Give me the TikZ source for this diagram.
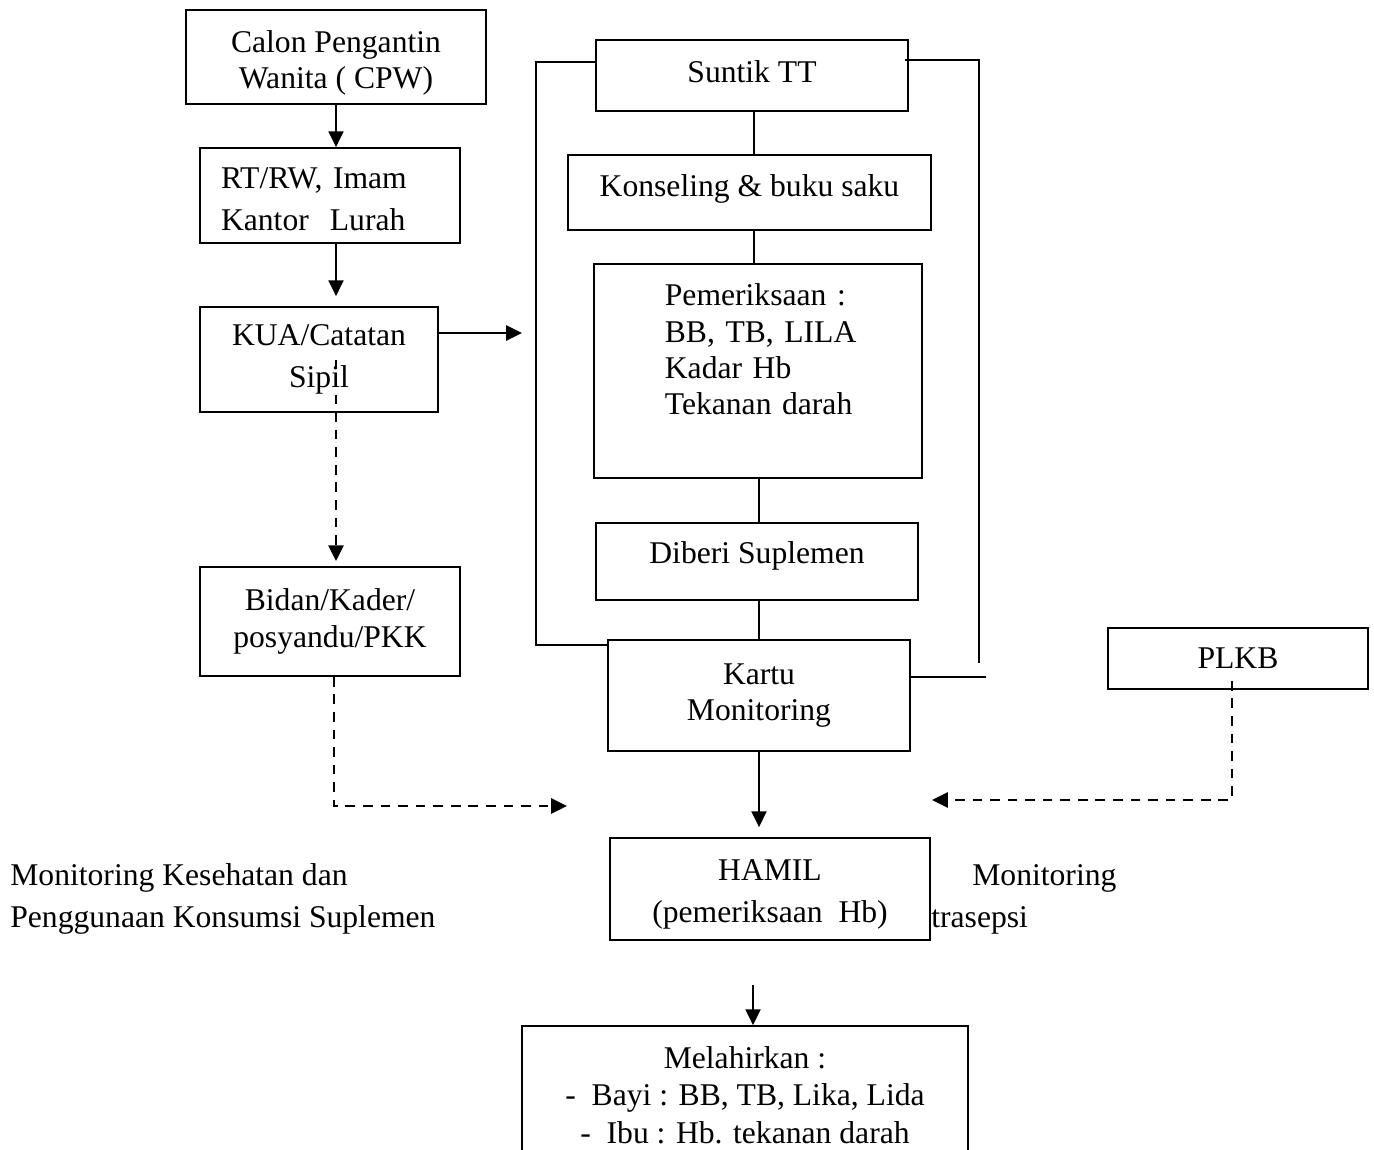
\documentclass[tikz,border=0pt]{standalone}
\usepackage{fontspec}
\setmainfont{Liberation Serif}
\usetikzlibrary{arrows.meta}
% struts to nudge text inside a box up or down
\newcommand\padtop[1]{\rule[12.5pt]{0pt}{#1}}
\newcommand\padbot[1]{\rule[-#1]{0pt}{#1}}

\begin{document}
\begin{tikzpicture}[x=0.02cm,y=-0.02cm,>={Triangle[length=9pt,width=8.5pt]},
  box/.style={draw,line width=1pt,align=center,inner sep=0pt,font=\fontsize{18}{20.7}\selectfont},
  wide/.style={font=\fontsize{18}{23.8}\selectfont},
  txt/.style={inner sep=0pt,font=\fontsize{18}{23.8}\selectfont},
  arr/.style={->,line width=1.4pt},
  dasharr/.style={->,line width=1.6pt,dash pattern=on 5.5pt off 4.5pt},
  link/.style={line width=1pt}]
  \path[use as bounding box,clip] (0,0) rectangle (1374,1150);

  % Left column
  \node[box,minimum width=6cm,minimum height=1.88cm] (cpw) at (336,57) {\padtop{6.8pt}Calon Pengantin\\Wanita ( CPW)};
  \node[box,wide,align=left,text width=4.36cm,inner xsep=0.42cm,minimum height=1.9cm] (rtrw) at (330,195.5) {\padtop{3.4pt}RT/RW, Imam\\Kantor\ \ Lurah};
  \node[box,wide,minimum width=4.76cm,minimum height=2.1cm] (kua) at (319,359.5) {KUA/Catatan\\Sipil};
  \node[box,minimum width=5.2cm,minimum height=2.18cm] (bidan) at (330,621.5) {Bidan/Kader/\\posyandu/PKK};

  % Centre column
  \node[box,minimum width=6.24cm,minimum height=1.42cm] (suntik) at (752,75.5) {Suntik TT\padbot{4.6pt}};
  \node[box,minimum width=7.26cm,minimum height=1.5cm] (konseling) at (749.5,192.5) {Konseling \& buku saku\padbot{8.5pt}};
  \node[box,minimum width=6.56cm,minimum height=4.28cm] (periksa) at (758,371) {};
  \node[box,draw=none,align=left,text width=4cm,anchor=north west] (periksatxt) at (664,283)
    {Pemeriksaan :\\BB, TB, LILA\\Kadar Hb\\Tekanan darah};
  \node[box,minimum width=6.44cm,minimum height=1.54cm] (suplemen) at (757,561.5) {Diberi Suplemen\padbot{10.7pt}};
  \node[box,minimum width=6.04cm,minimum height=2.22cm] (kartu) at (759,695.5) {Kartu\\Monitoring};
  \node[box,wide,minimum width=6.4cm,minimum height=2.04cm] (hamil) at (770,889) {\padtop{5.6pt}HAMIL\\(pemeriksaan\ \ Hb)};
  \node[box,font=\fontsize{18}{21.3}\selectfont,minimum width=8.92cm,minimum height=2.76cm] (lahir) at (745,1095)
    {Melahirkan :\\-\ \ Bayi : BB, TB, Lika, Lida\\-\ \ Ibu : Hb. tekanan darah};

  % Right
  \node[box,minimum width=5.2cm,minimum height=1.22cm] (plkb) at (1238,658.5) {PLKB};

  % Side texts
  \node[txt,align=left,anchor=west] (monkes) at (10,899) {Monitoring Kesehatan dan\\Penggunaan Konsumsi Suplemen};
  \node[txt,anchor=base west] (monkb) at (972,885) {Monitoring};
  \node[txt,anchor=base west] (kontra) at (931,927) {trasepsi};

  % free ends
  \coordinate (kuaout) at (522,333);
  \coordinate (lmon) at (567,806);
  \coordinate (rmon) at (932,800);
  \coordinate (lahirin) at (753,985);

  % Arrows, left column
  \draw[arr] (cpw.south) -- (cpw.south |- rtrw.north);
  \draw[arr,shorten >=0.2cm] (rtrw.south -| cpw.south) -- (kua.north -| cpw.south);
  \draw[arr] (kua.east |- kuaout) -- (kuaout);
  \draw[dasharr,shorten >=0.1cm] (kua.center -| cpw.south) -- (bidan.north -| cpw.south);
  \draw[dasharr] ([xshift=0.08cm]bidan.south) |- (lmon);

  % Centre links
  \foreach \a/\b/\x in {suntik/konseling/754,konseling/periksa/754,periksa/suplemen/759,suplemen/kartu/759}
    \draw[link] (\a.south -| \x,0) -- (\b.north -| \x,0);
  \draw[link] (suntik.west |- 0,62) -- ++(-59,0) |- (kartu.west |- 0,645);
  \draw[link] ([xshift=-0.08cm]suntik.east |- 0,60) -- ++(74,0) -- ++(0,603);
  \draw[link] (kartu.east |- 0,677) -- ++(75,0);

  \draw[arr,shorten >=0.2cm] (kartu.south) -- (kartu.south |- hamil.north);
  \draw[dasharr] ([xshift=-0.12cm,yshift=0.18cm]plkb.south) |- (rmon);
  \draw[arr] (lahirin) -- (lahirin |- lahir.north);
\end{tikzpicture}
\end{document}
